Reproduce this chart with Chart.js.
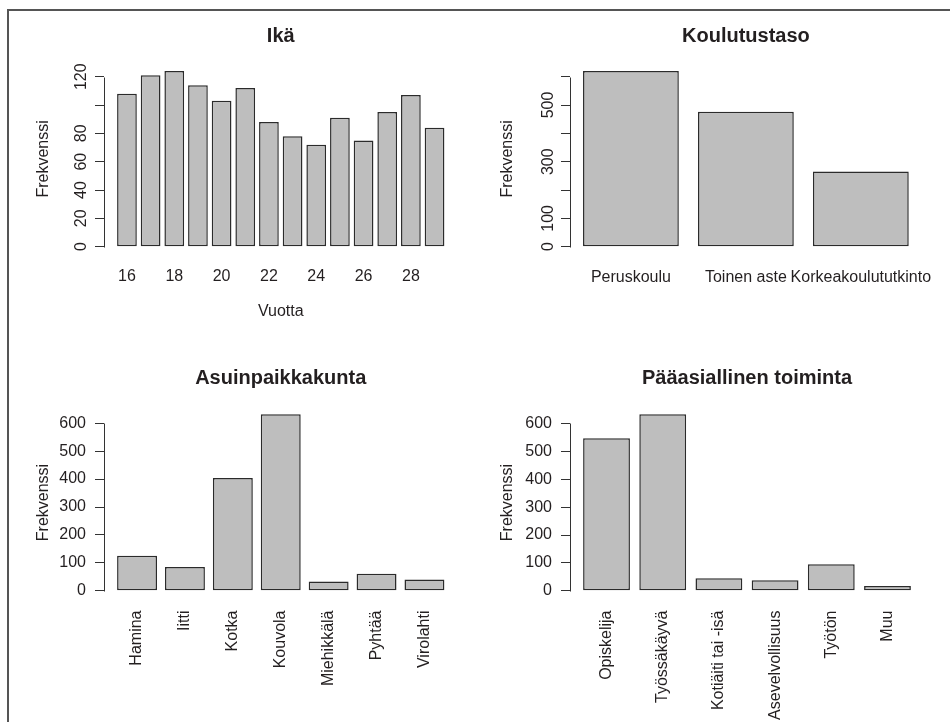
<!DOCTYPE html>
<html>
<head>
<meta charset="utf-8">
<script src="https://cdn.jsdelivr.net/npm/chart.js@4.4.1/dist/chart.umd.min.js"></script>
<style>
  html, body { margin: 0; padding: 0; background: #fff; width: 950px; height: 722px; overflow: hidden; }
  #frame { position: absolute; left: 7px; top: 9px; width: 1000px; height: 800px;
           border-left: 2px solid #555; border-top: 2px solid #555; }
  canvas { position: absolute; }
</style>
</head>
<body>
<div id="frame"></div>
<canvas id="ika" width="475" height="361" style="left:0;top:0"></canvas>
<canvas id="koulutus" width="475" height="361" style="left:475px;top:0"></canvas>
<canvas id="asuinpaikka" width="475" height="361" style="left:0;top:361px"></canvas>
<canvas id="toiminta" width="475" height="361" style="left:475px;top:361px"></canvas>
<script>
// Ikä (vuotta)
const ageYears = ['16', '17', '18', '19', '20', '21', '22', '23', '24', '25', '26', '27', '28', '29'];
const ageCounts = [108, 121, 124, 114, 103, 112, 88, 78, 72, 91, 75, 95, 107, 84];
const ageYTicks = [0, 20, 40, 60, 80, 100, 120];
const ageYTickLabels = ['0', '20', '40', '60', '80', '', '120'];

// Koulutustaso
const eduLevels = ['Peruskoulu', 'Toinen aste', 'Korkeakoulututkinto'];
const eduCounts = [620, 476, 265];
const eduYTicks = [0, 100, 200, 300, 400, 500, 600];
const eduYTickLabels = ['0', '100', '', '300', '', '500', ''];

// Asuinpaikkakunta
const towns = ['Hamina', 'Iitti', 'Kotka', 'Kouvola', 'Miehikkälä', 'Pyhtää', 'Virolahti'];
const townCounts = [126, 85, 404, 632, 33, 61, 41];
const townYTicks = [0, 100, 200, 300, 400, 500, 600];
const townYTickLabels = ['0', '100', '200', '300', '400', '500', '600'];

// Pääasiallinen toiminta
const activities = ['Opiskelija', 'Työssäkäyvä', 'Kotiäiti tai -isä', 'Asevelvollisuus', 'Työtön', 'Muu'];
const activityCounts = [547, 633, 45, 38, 95, 17];
const activityYTicks = [0, 100, 200, 300, 400, 500, 600];
const activityYTickLabels = ['0', '100', '200', '300', '400', '500', '600'];

const INK = '#231f20';
const AXIS = '#333333';
const BAR_FILL = '#bebebe';
const BAR_EDGE = '#2b2b2b';
const FONT = '"Liberation Sans", Arial, sans-serif';

Chart.defaults.font.family = FONT;
Chart.defaults.color = INK;

// The y axis line only runs from the first to the last tick.
const yAxisLine = {
  id: 'yAxisLine',
  afterDraw(chart) {
    const s = chart.scales.y;
    const t = s.ticks;
    const ctx = chart.ctx;
    const x = Math.floor(s.right) + 0.5;
    ctx.save();
    ctx.strokeStyle = AXIS;
    ctx.lineWidth = 1;
    ctx.beginPath();
    ctx.moveTo(x, Math.round(s.getPixelForValue(t[0].value)) + 0.5);
    ctx.lineTo(x, Math.round(s.getPixelForValue(t[t.length - 1].value)) + 0.5);
    ctx.stroke();
    ctx.restore();
  }
};

function panel(id, p) {
  const W = 475, H = 361;
  const n = p.names.length;
  const half = 1 / 2.4;                 // half a bar, bar spacing 0.2
  const xPad = 0.04 * (n - 1 + 2 * half);
  const top = Math.max(...p.counts);
  return new Chart(document.getElementById(id), {
    type: 'bar',
    data: {
      datasets: [{
        data: p.counts.map((v, i) => ({ x: i, y: v })),
        backgroundColor: BAR_FILL,
        borderColor: BAR_EDGE,
        borderWidth: 1.5,
        borderSkipped: false,
        categoryPercentage: 1,
        barPercentage: 1 / 1.2
      }]
    },
    options: {
      responsive: false,
      animation: false,
      events: [],
      layout: { padding: { left: 0, top: 0, bottom: 0, right: W - p.plot.right } },
      plugins: {
        legend: { display: false },
        tooltip: { enabled: false },
        title: {
          display: true,
          text: p.title,
          fullSize: false,
          color: INK,
          font: { size: 20, weight: 'bold', lineHeight: 1.2 },
          padding: { top: p.titleY - 12, bottom: p.plot.top - p.titleY - 12 }
        }
      },
      scales: {
        x: {
          type: 'linear',
          offset: false,
          min: -half - xPad,
          max: n - 1 + half + xPad,
          grid: { display: false, drawTicks: false, offset: false },
          border: { display: false },
          afterBuildTicks: s => { s.ticks = p.names.map((_, i) => ({ value: i })); },
          afterFit: s => { s.height = H - p.plot.bottom; },
          ticks: {
            autoSkip: false,
            minRotation: p.rotateX ? 90 : 0,
            maxRotation: p.rotateX ? 90 : 0,
            padding: p.xTickPad,
            color: INK,
            font: { size: 16 },
            callback: (v, i) => p.xLabels[i]
          },
          title: p.xTitle
            ? { display: true, text: p.xTitle, color: INK, font: { size: 16 },
                padding: { top: 0, bottom: H - p.xTitleY - 9.6 } }
            : { display: false }
        },
        y: {
          type: 'linear',
          min: -0.04 * top,
          max: 1.04 * top,
          grid: { display: true, drawOnChartArea: false, drawTicks: true, tickLength: 9, color: AXIS, lineWidth: 1 },
          border: { display: false },
          afterBuildTicks: s => { s.ticks = p.yTicks.map(v => ({ value: v })); },
          afterFit: s => { s.width = p.plot.left; },
          ticks: {
            autoSkip: false,
            minRotation: p.rotateY ? 90 : 0,
            maxRotation: p.rotateY ? 90 : 0,
            crossAlign: p.rotateY ? 'center' : 'near',
            padding: p.yTickPad,
            color: INK,
            font: { size: 16 },
            callback: (v, i) => p.yTickLabels[i]
          },
          title: {
            display: true, text: 'Frekvenssi', color: INK, font: { size: 16 },
            padding: { top: p.ylabX - 9.6, bottom: 0 }
          }
        }
      }
    },
    plugins: [yAxisLine]
  });
}

panel('ika', {
  title: 'Ikä', names: ageYears, counts: ageCounts,
  xLabels: ageYears.map((y, i) => (i % 2 === 0 ? y : '')),
  yTicks: ageYTicks, yTickLabels: ageYTickLabels,
  xTitle: 'Vuotta', xTitleY: 312,
  rotateX: false, rotateY: true, xTickPad: 13.4, yTickPad: 0,
  titleY: 36.7, ylabX: 43.5,
  plot: { left: 104, right: 457.5, top: 64, bottom: 253.7 }
});

panel('koulutus', {
  title: 'Koulutustaso', names: eduLevels, counts: eduCounts,
  xLabels: eduLevels,
  yTicks: eduYTicks, yTickLabels: eduYTickLabels,
  rotateX: false, rotateY: true, xTickPad: 14, yTickPad: -1,
  titleY: 36.7, ylabX: 33,
  plot: { left: 95, right: 449, top: 64, bottom: 253.7 }
});

panel('asuinpaikka', {
  title: 'Asuinpaikkakunta', names: towns, counts: townCounts,
  xLabels: towns,
  yTicks: townYTicks, yTickLabels: townYTickLabels,
  rotateX: true, rotateY: false, xTickPad: 12.6, yTickPad: 9,
  titleY: 17, ylabX: 43.5,
  plot: { left: 104, right: 457.5, top: 46.2, bottom: 236.9 }
});

panel('toiminta', {
  title: 'Pääasiallinen toiminta', names: activities, counts: activityCounts,
  xLabels: activities,
  yTicks: activityYTicks, yTickLabels: activityYTickLabels,
  rotateX: true, rotateY: false, xTickPad: 12.6, yTickPad: 9,
  titleY: 17, ylabX: 33,
  plot: { left: 95, right: 449, top: 46.2, bottom: 236.9 }
});
</script>
</body>
</html>
